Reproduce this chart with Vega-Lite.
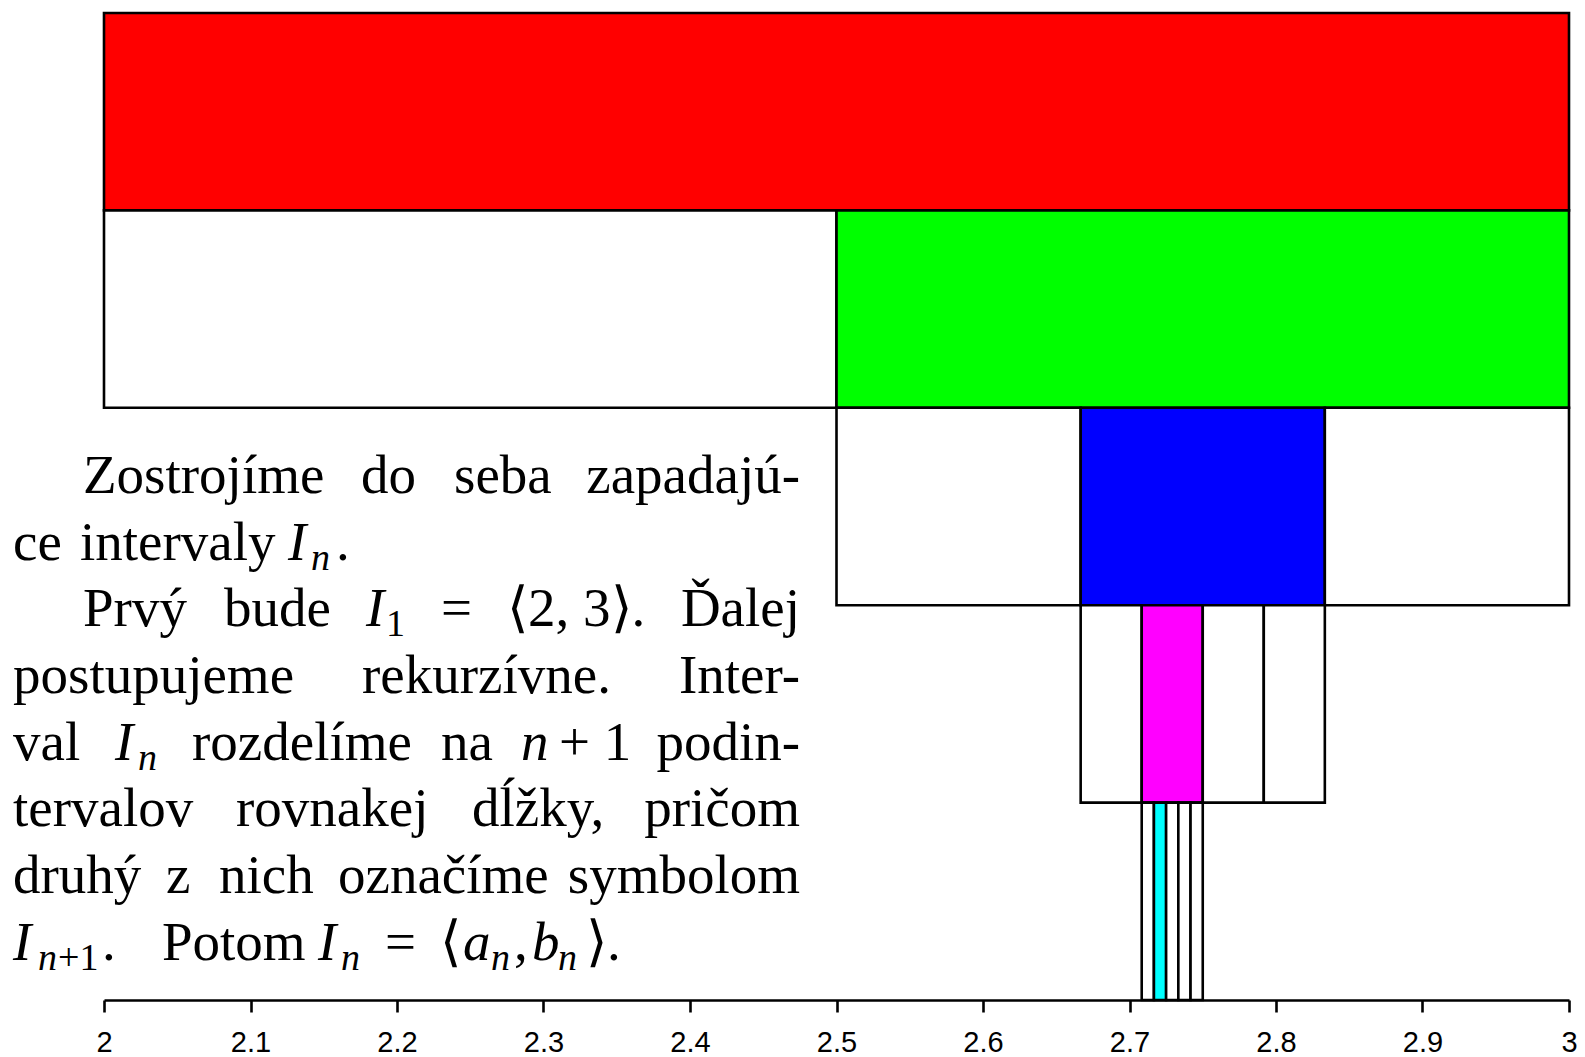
{
  "$schema": "https://vega.github.io/schema/vega-lite/v6.json",
  "width": 1465,
  "height": 987,
  "autosize": {"type": "none"},
  "padding": {"left": 104, "top": 13, "right": 16, "bottom": 57},
  "background": "white",
  "config": {"view": {"stroke": null}},
  "datasets": {
    "intervals": [
      {"level": 1, "a": 2, "b": 3, "chosen": true},
      {"level": 2, "a": 2, "b": 2.5, "chosen": false},
      {"level": 2, "a": 2.5, "b": 3, "chosen": true},
      {"level": 3, "a": 2.5, "b": 2.666667, "chosen": false},
      {"level": 3, "a": 2.666667, "b": 2.833333, "chosen": true},
      {"level": 3, "a": 2.833333, "b": 3, "chosen": false},
      {"level": 4, "a": 2.666667, "b": 2.708333, "chosen": false},
      {"level": 4, "a": 2.708333, "b": 2.75, "chosen": true},
      {"level": 4, "a": 2.75, "b": 2.791667, "chosen": false},
      {"level": 4, "a": 2.791667, "b": 2.833333, "chosen": false},
      {"level": 5, "a": 2.708333, "b": 2.716667, "chosen": false},
      {"level": 5, "a": 2.716667, "b": 2.725, "chosen": true},
      {"level": 5, "a": 2.725, "b": 2.733333, "chosen": false},
      {"level": 5, "a": 2.733333, "b": 2.741667, "chosen": false},
      {"level": 5, "a": 2.741667, "b": 2.75, "chosen": false}
    ],
    "words": [
      {"line": 1, "x": 1.98567, "t": "Zostrojíme", "kind": "w"},
      {"line": 1, "x": 2.17543, "t": "do", "kind": "w"},
      {"line": 1, "x": 2.23891, "t": "seba", "kind": "w"},
      {"line": 1, "x": 2.47509, "t": "zapadajú-", "kind": "wr"},
      {"line": 2, "x": 1.93788, "t": "ce", "kind": "w"},
      {"line": 2, "x": 1.98362, "t": "intervaly", "kind": "w"},
      {"line": 2, "x": 2.12560, "t": "I", "kind": "m"},
      {"line": 2, "x": 2.14130, "t": "n", "kind": "si"},
      {"line": 2, "x": 2.15836, "t": ".", "kind": "w"},
      {"line": 3, "x": 1.98567, "t": "Prvý", "kind": "w"},
      {"line": 3, "x": 2.08191, "t": "bude", "kind": "w"},
      {"line": 3, "x": 2.17884, "t": "I", "kind": "m"},
      {"line": 3, "x": 2.19249, "t": "1", "kind": "sr"},
      {"line": 3, "x": 2.23003, "t": "=", "kind": "w"},
      {"line": 3, "x": 2.27509, "t": "⟨2, 3⟩.", "kind": "w"},
      {"line": 3, "x": 2.47509, "t": "Ďalej", "kind": "wr"},
      {"line": 4, "x": 1.93788, "t": "postupujeme", "kind": "w"},
      {"line": 4, "x": 2.17611, "t": "rekurzívne.", "kind": "w"},
      {"line": 4, "x": 2.47509, "t": "Inter-", "kind": "wr"},
      {"line": 5, "x": 1.93788, "t": "val", "kind": "w"},
      {"line": 5, "x": 2.00751, "t": "I", "kind": "m"},
      {"line": 5, "x": 2.02321, "t": "n", "kind": "si"},
      {"line": 5, "x": 2.06007, "t": "rozdelíme", "kind": "w"},
      {"line": 5, "x": 2.23003, "t": "na", "kind": "w"},
      {"line": 5, "x": 2.28464, "t": "n", "kind": "m"},
      {"line": 5, "x": 2.31058, "t": "+ 1", "kind": "w"},
      {"line": 5, "x": 2.47509, "t": "podin-", "kind": "wr"},
      {"line": 6, "x": 1.93788, "t": "tervalov", "kind": "w"},
      {"line": 6, "x": 2.09010, "t": "rovnakej", "kind": "w"},
      {"line": 6, "x": 2.25119, "t": "dĺžky,", "kind": "w"},
      {"line": 6, "x": 2.47509, "t": "pričom", "kind": "wr"},
      {"line": 7, "x": 1.93788, "t": "druhý", "kind": "w"},
      {"line": 7, "x": 2.04232, "t": "z", "kind": "w"},
      {"line": 7, "x": 2.07850, "t": "nich", "kind": "w"},
      {"line": 7, "x": 2.15973, "t": "označíme", "kind": "w"},
      {"line": 7, "x": 2.47509, "t": "symbolom", "kind": "wr"},
      {"line": 8, "x": 1.93788, "t": "I", "kind": "m"},
      {"line": 8, "x": 1.95495, "t": "n", "kind": "si"},
      {"line": 8, "x": 1.96860, "t": "+1", "kind": "sr"},
      {"line": 8, "x": 1.99863, "t": ".", "kind": "w"},
      {"line": 8, "x": 2.03959, "t": "Potom", "kind": "w"},
      {"line": 8, "x": 2.14608, "t": "I", "kind": "m"},
      {"line": 8, "x": 2.16177, "t": "n", "kind": "si"},
      {"line": 8, "x": 2.19181, "t": "=", "kind": "w"},
      {"line": 8, "x": 2.22935, "t": "⟨", "kind": "w"},
      {"line": 8, "x": 2.24505, "t": "a", "kind": "m"},
      {"line": 8, "x": 2.26416, "t": "n", "kind": "si"},
      {"line": 8, "x": 2.27986, "t": ",", "kind": "w"},
      {"line": 8, "x": 2.29215, "t": "b", "kind": "m"},
      {"line": 8, "x": 2.30990, "t": "n", "kind": "si"},
      {"line": 8, "x": 2.32901, "t": "⟩.", "kind": "w"}
    ]
  },
  "layer": [
    {
      "data": {"name": "intervals"},
      "mark": {"type": "rect", "stroke": "black", "strokeWidth": 2.6},
      "encoding": {
        "x": {
          "field": "a",
          "type": "quantitative",
          "scale": {"domain": [2, 3], "nice": false, "zero": false},
          "axis": {
            "values": [2, 2.1, 2.2, 2.3, 2.4, 2.5, 2.6, 2.7, 2.8, 2.9, 3],
            "format": "~g",
            "grid": false,
            "title": null,
            "domainColor": "black",
            "domainWidth": 2.6,
            "tickColor": "black",
            "tickWidth": 2.6,
            "tickSize": 12,
            "labelFont": "Liberation Sans",
            "labelFontSize": 29,
            "labelColor": "black",
            "labelPadding": 16,
            "labelFlush": false,
            "labelOverlap": false,
            "labelDx": 3,
            "zindex": 1
          }
        },
        "x2": {"field": "b"},
        "y": {
          "field": "level",
          "type": "ordinal",
          "scale": {"paddingInner": 0, "paddingOuter": 0},
          "axis": null
        },
        "color": {
          "condition": {
            "test": "datum.chosen",
            "field": "level",
            "type": "ordinal",
            "scale": {"domain": [1, 2, 3, 4, 5], "range": ["#ff0000", "#00ff00", "#0000ff", "#ff00ff", "#00ffff"]},
            "legend": null
          },
          "value": "white"
        }
      }
    },
    {
      "data": {"name": "words"},
      "encoding": {
        "x": {"field": "x", "type": "quantitative"},
        "y": {
          "field": "line",
          "type": "quantitative",
          "scale": {"domain": [-6.196, 8.602], "reverse": true, "nice": false, "zero": false},
          "axis": null
        },
        "text": {"field": "t"}
      },
      "layer": [
        {
          "transform": [{"filter": "datum.kind === 'w'"}],
          "mark": {"type": "text", "font": "Liberation Serif", "fontSize": 55, "align": "left", "baseline": "alphabetic", "color": "black"}
        },
        {
          "transform": [{"filter": "datum.kind === 'wr'"}],
          "mark": {"type": "text", "font": "Liberation Serif", "fontSize": 55, "align": "right", "baseline": "alphabetic", "color": "black"}
        },
        {
          "transform": [{"filter": "datum.kind === 'm'"}],
          "mark": {"type": "text", "font": "Liberation Serif", "fontStyle": "italic", "fontSize": 55, "align": "left", "baseline": "alphabetic", "color": "black"}
        },
        {
          "transform": [{"filter": "datum.kind === 'si'"}],
          "mark": {"type": "text", "font": "Liberation Serif", "fontStyle": "italic", "fontSize": 38, "align": "left", "baseline": "alphabetic", "dy": 10, "color": "black"}
        },
        {
          "transform": [{"filter": "datum.kind === 'sr'"}],
          "mark": {"type": "text", "font": "Liberation Serif", "fontSize": 38, "align": "left", "baseline": "alphabetic", "dy": 10, "color": "black"}
        }
      ]
    }
  ],
  "resolve": {"scale": {"y": "independent"}}
}
